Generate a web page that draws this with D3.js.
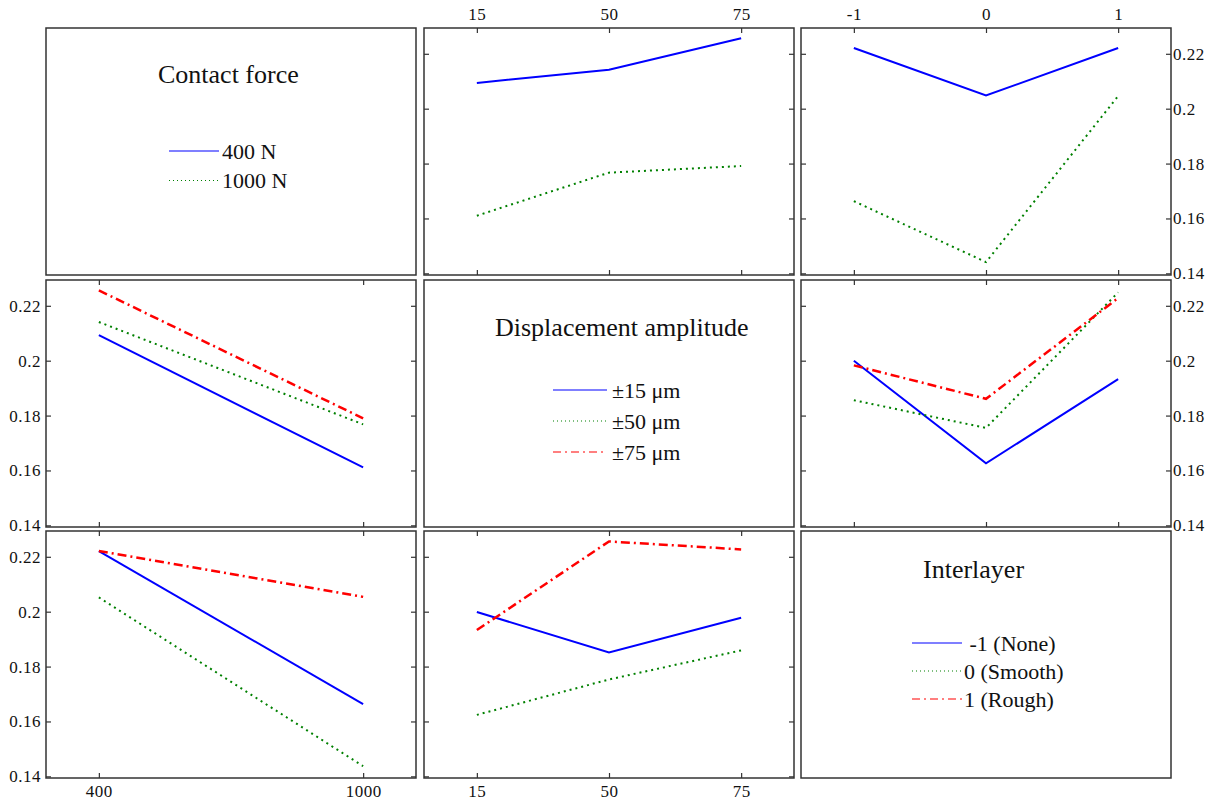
<!DOCTYPE html>
<html>
<head>
<meta charset="utf-8">
<script src="https://cdn.jsdelivr.net/npm/d3@7/dist/d3.min.js"></script>
<style>
  html, body { margin: 0; padding: 0; background: #fff; }
  svg { display: block; }
  svg text { font-family: 'Liberation Serif', 'Times New Roman', serif; }
</style>
</head>
<body>
<svg id="chart" width="1214" height="801"></svg>
<script>
// ---------- data ----------
const contactForce = [400, 1000];
const displacement = [15, 50, 75];
const interlayer = [-1, 0, 1];

const yTicks = [0.14, 0.16, 0.18, 0.2, 0.22];
const yTickLabels = ["0.14", "0.16", "0.18", "0.2", "0.22"];

const contactForceLabels = ["400 N", "1000 N"];
const displacementLabels = ["\u00b115 \u03bcm", "\u00b150 \u03bcm", "\u00b175 \u03bcm"];
const interlayerLabels = [" -1 (None)", "0 (Smooth)", "1 (Rough)"];

const legendTitles = ["Contact force", "Displacement amplitude", "Interlayer"];

// row 1, col 2: contact force lines vs displacement
const cf400_vsDisp  = [0.2094, 0.2142, 0.2257];
const cf1000_vsDisp = [0.1610, 0.1767, 0.1791];
// row 1, col 3: contact force lines vs interlayer
const cf400_vsInter  = [0.2221, 0.2048, 0.2221];
const cf1000_vsInter = [0.1663, 0.1441, 0.2046];
// row 2, col 1: displacement lines vs contact force
const disp15_vsCF = [0.2093, 0.1611];
const disp50_vsCF = [0.2141, 0.1768];
const disp75_vsCF = [0.2256, 0.1790];
// row 2, col 3: displacement lines vs interlayer
const disp15_vsInter = [0.2000, 0.1626, 0.1933];
const disp50_vsInter = [0.1856, 0.1755, 0.2249];
const disp75_vsInter = [0.1983, 0.1861, 0.2228];
// row 3, col 1: interlayer lines vs contact force
const interNone_vsCF   = [0.2221, 0.1663];
const interSmooth_vsCF = [0.2052, 0.1437];
const interRough_vsCF  = [0.2221, 0.2054];
// row 3, col 2: interlayer lines vs displacement
const interNone_vsDisp   = [0.1999, 0.1851, 0.1978];
const interSmooth_vsDisp = [0.1624, 0.1753, 0.1859];
const interRough_vsDisp  = [0.1933, 0.2256, 0.2227];

// ---------- layout ----------
const svg = d3.select("#chart");
const colX = [46, 424, 801];
const rowY = [28, 280, 531];
const PW = 370, PH = 247;
const FONT = "Liberation Serif, Times New Roman, serif";

const styles = [
  { color: "#0000ff", dash: null,       width: 2,   legDash: null },
  { color: "#008000", dash: "2,4",      width: 2,   legDash: "1,3" },
  { color: "#ff0000", dash: "9,4,2,4",  width: 2.5, legDash: "8,4,2,4" }
];

function xScaleFor(col, c) {
  if (col === 0) return d3.scaleLinear().domain([280, 1120]).range([c, c + PW]);
  if (col === 1) return d3.scalePoint().domain(displacement).range([c, c + PW]).padding(0.4);
  return d3.scaleLinear().domain([-1.4, 1.4]).range([c, c + PW]);
}
const xValues = [contactForce, displacement, interlayer];

function frame(col, row) {
  svg.append("rect")
    .attr("x", colX[col]).attr("y", rowY[row])
    .attr("width", PW).attr("height", PH)
    .attr("fill", "none").attr("stroke", "#333").attr("stroke-width", 1.5);
}

function styleAxis(g) {
  g.attr("font-family", FONT).attr("font-size", 17);
  g.select(".domain").remove();
  g.selectAll(".tick line").attr("stroke", "#333").attr("stroke-width", 1.2);
  g.selectAll(".tick text")
    .attr("fill", "#111")
    .attr("font-family", FONT)
    .attr("font-size", 17)
    .attr("letter-spacing", "0.5px");
}

function dataPanel(col, row, series, opts) {
  const x0 = colX[col], y0 = rowY[row];
  const x = xScaleFor(col, x0);
  const y = d3.scaleLinear().domain([0.1394, 0.2294]).range([y0 + PH, y0]);
  const xs = xValues[col];

  const fmtY = d => yTickLabels[yTicks.indexOf(d)];
  svg.append("g").attr("transform", `translate(${x0},0)`)
    .call(d3.axisLeft(y).tickValues(yTicks).tickSize(-5).tickPadding(5)
      .tickFormat(opts.leftLabels ? fmtY : () => "")).call(styleAxis);
  svg.append("g").attr("transform", `translate(${x0 + PW},0)`)
    .call(d3.axisRight(y).tickValues(yTicks).tickSize(-5).tickPadding(2)
      .tickFormat(opts.rightLabels ? fmtY : () => "")).call(styleAxis);
  svg.append("g").attr("transform", `translate(0,${y0})`)
    .call(d3.axisTop(x).tickValues(xs).tickSize(-5).tickPadding(8)
      .tickFormat(opts.topLabels ? d => String(d) : () => "")).call(styleAxis);
  svg.append("g").attr("transform", `translate(0,${y0 + PH})`)
    .call(d3.axisBottom(x).tickValues(xs).tickSize(-5).tickPadding(7)
      .tickFormat(opts.bottomLabels ? d => String(d) : () => "")).call(styleAxis);

  const line = d3.line().x(d => x(d[0])).y(d => y(d[1]));
  series.forEach((vals, i) => {
    const st = styles[i];
    svg.append("path")
      .datum(xs.map((xv, k) => [xv, vals[k]]))
      .attr("d", line)
      .attr("fill", "none")
      .attr("stroke", st.color)
      .attr("stroke-width", st.width)
      .attr("stroke-dasharray", st.dash);
  });
  frame(col, row);
}

function legendPanel(col, row, title, labels, pos) {
  frame(col, row);
  svg.append("text")
    .attr("x", pos.titleX).attr("y", pos.titleY)
    .attr("font-family", FONT).attr("font-size", 26).attr("fill", "#111")
    .text(title);
  labels.forEach((lab, i) => {
    const st = styles[i];
    const ly = pos.lineY + i * pos.step;
    svg.append("line")
      .attr("x1", pos.lineX1).attr("x2", pos.lineX2)
      .attr("y1", ly).attr("y2", ly)
      .attr("stroke", st.color).attr("stroke-width", 1.2)
      .attr("stroke-dasharray", st.legDash);
    svg.append("text")
      .attr("x", pos.textX).attr("y", ly + 7.5)
      .attr("font-family", FONT).attr("font-size", 22).attr("fill", "#111")
      .attr("xml:space", "preserve")
      .text(lab);
  });
}

// ---------- panels ----------
legendPanel(0, 0, legendTitles[0], contactForceLabels,
  { titleX: 158, titleY: 83, lineX1: 169, lineX2: 219, textX: 222, lineY: 151, step: 29.5 });
dataPanel(1, 0, [cf400_vsDisp, cf1000_vsDisp], { topLabels: true });
dataPanel(2, 0, [cf400_vsInter, cf1000_vsInter], { topLabels: true, rightLabels: true });

dataPanel(0, 1, [disp15_vsCF, disp50_vsCF, disp75_vsCF], { leftLabels: true });
legendPanel(1, 1, legendTitles[1], displacementLabels,
  { titleX: 495, titleY: 336, lineX1: 553, lineX2: 607, textX: 612, lineY: 390, step: 31 });
dataPanel(2, 1, [disp15_vsInter, disp50_vsInter, disp75_vsInter], { rightLabels: true });

dataPanel(0, 2, [interNone_vsCF, interSmooth_vsCF, interRough_vsCF], { leftLabels: true, bottomLabels: true });
dataPanel(1, 2, [interNone_vsDisp, interSmooth_vsDisp, interRough_vsDisp], { bottomLabels: true });
legendPanel(2, 2, legendTitles[2], interlayerLabels,
  { titleX: 923, titleY: 578, lineX1: 912, lineX2: 962, textX: 964, lineY: 643, step: 28 });
</script>
</body>
</html>
